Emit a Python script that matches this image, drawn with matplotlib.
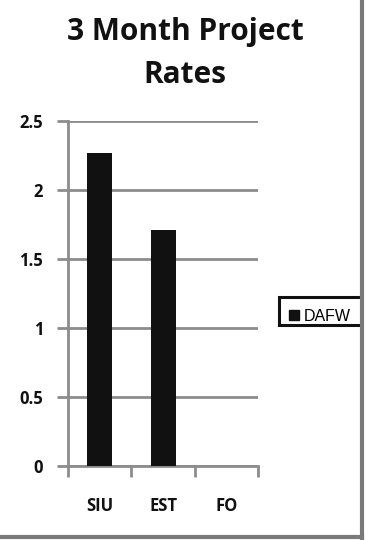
import matplotlib
matplotlib.use("Agg")
import matplotlib.pyplot as plt
from matplotlib.lines import Line2D
from matplotlib.patches import Rectangle
import numpy as np

categories = ["SIU", "EST", "FO"]
dafw = [2.27, 1.71, 0.0]
series_name = "DAFW"
yticks = [0, 0.5, 1, 1.5, 2, 2.5]
ytick_labels = ["0", "0.5", "1", "1.5", "2", "2.5"]

grid_col = "#8c8c8c"
label_font = dict(fontfamily="Open Sans", fontweight="bold",
                  fontsize=12, color="#111111")

fig = plt.figure(figsize=(3.7, 5.4), dpi=100)
fig.patch.set_facecolor("white")
ax = fig.add_axes([0.184, 0.137, 0.514, 0.639])

x = np.arange(len(categories))
ax.bar(x, dafw, width=0.39, color="#111111", zorder=3)

ax.set_xlim(-0.5, len(categories) - 0.5)
ax.set_ylim(0, 2.5)

ax.set_yticks(yticks)
ax.set_yticklabels(ytick_labels, **label_font)
ax.yaxis.grid(True, color=grid_col, linewidth=2.0, zorder=0)
ax.tick_params(axis="y", length=8, width=2.0, color=grid_col, pad=10)

# category ticks sit on the boundaries between groups
ax.set_xticks(np.arange(-0.5, len(categories), 1.0))
ax.set_xticklabels([])
ax.set_xticks(x, minor=True)
ax.set_xticklabels(categories, minor=True, **label_font)
ax.tick_params(axis="x", which="major", length=8, width=2.0, color=grid_col)
ax.tick_params(axis="x", which="minor", length=0, pad=22.5)

for side in ["top", "right"]:
    ax.spines[side].set_visible(False)
for side in ["left", "bottom"]:
    ax.spines[side].set_color(grid_col)
    ax.spines[side].set_linewidth(2.0)

fig.text(0.5, 0.968, "3 Month Project\nRates", ha="center", va="top",
         fontfamily="Open Sans", fontweight="bold", fontsize=21.5,
         linespacing=1.55, color="#111111")

# legend: entry drawn by matplotlib, box drawn separately so it runs under the frame
leg = fig.legend(handles=[Line2D([], [], marker="s", linestyle="none",
                                 markersize=6.8, color="#111111")],
                 labels=[series_name], loc="center left",
                 bbox_to_anchor=(0.778, 0.414), frameon=False,
                 prop={"family": "Liberation Sans", "size": 11.5},
                 handletextpad=0.2, borderpad=0.0, handlelength=0.8,
                 borderaxespad=0.0)
fig.add_artist(Rectangle((0.753, 1 - 325 / 540), 0.3, 28 / 540,
                         transform=fig.transFigure, facecolor="white",
                         edgecolor="#111111", linewidth=2.2, zorder=4))

# outer chart frame on the right and bottom edges
fig.add_artist(Rectangle((0.981, 0), 0.03, 1, transform=fig.transFigure,
                         facecolor="white", edgecolor="none", zorder=6))
fig.add_artist(Line2D([0.979, 0.979], [0.0, 1.0], transform=fig.transFigure,
                      color="#7a7a7a", linewidth=3, zorder=7))
fig.add_artist(Line2D([0.0, 0.979], [0.005, 0.005], transform=fig.transFigure,
                      color="#7a7a7a", linewidth=3, zorder=7))

fig.savefig("out.png", dpi=100, facecolor="white")
